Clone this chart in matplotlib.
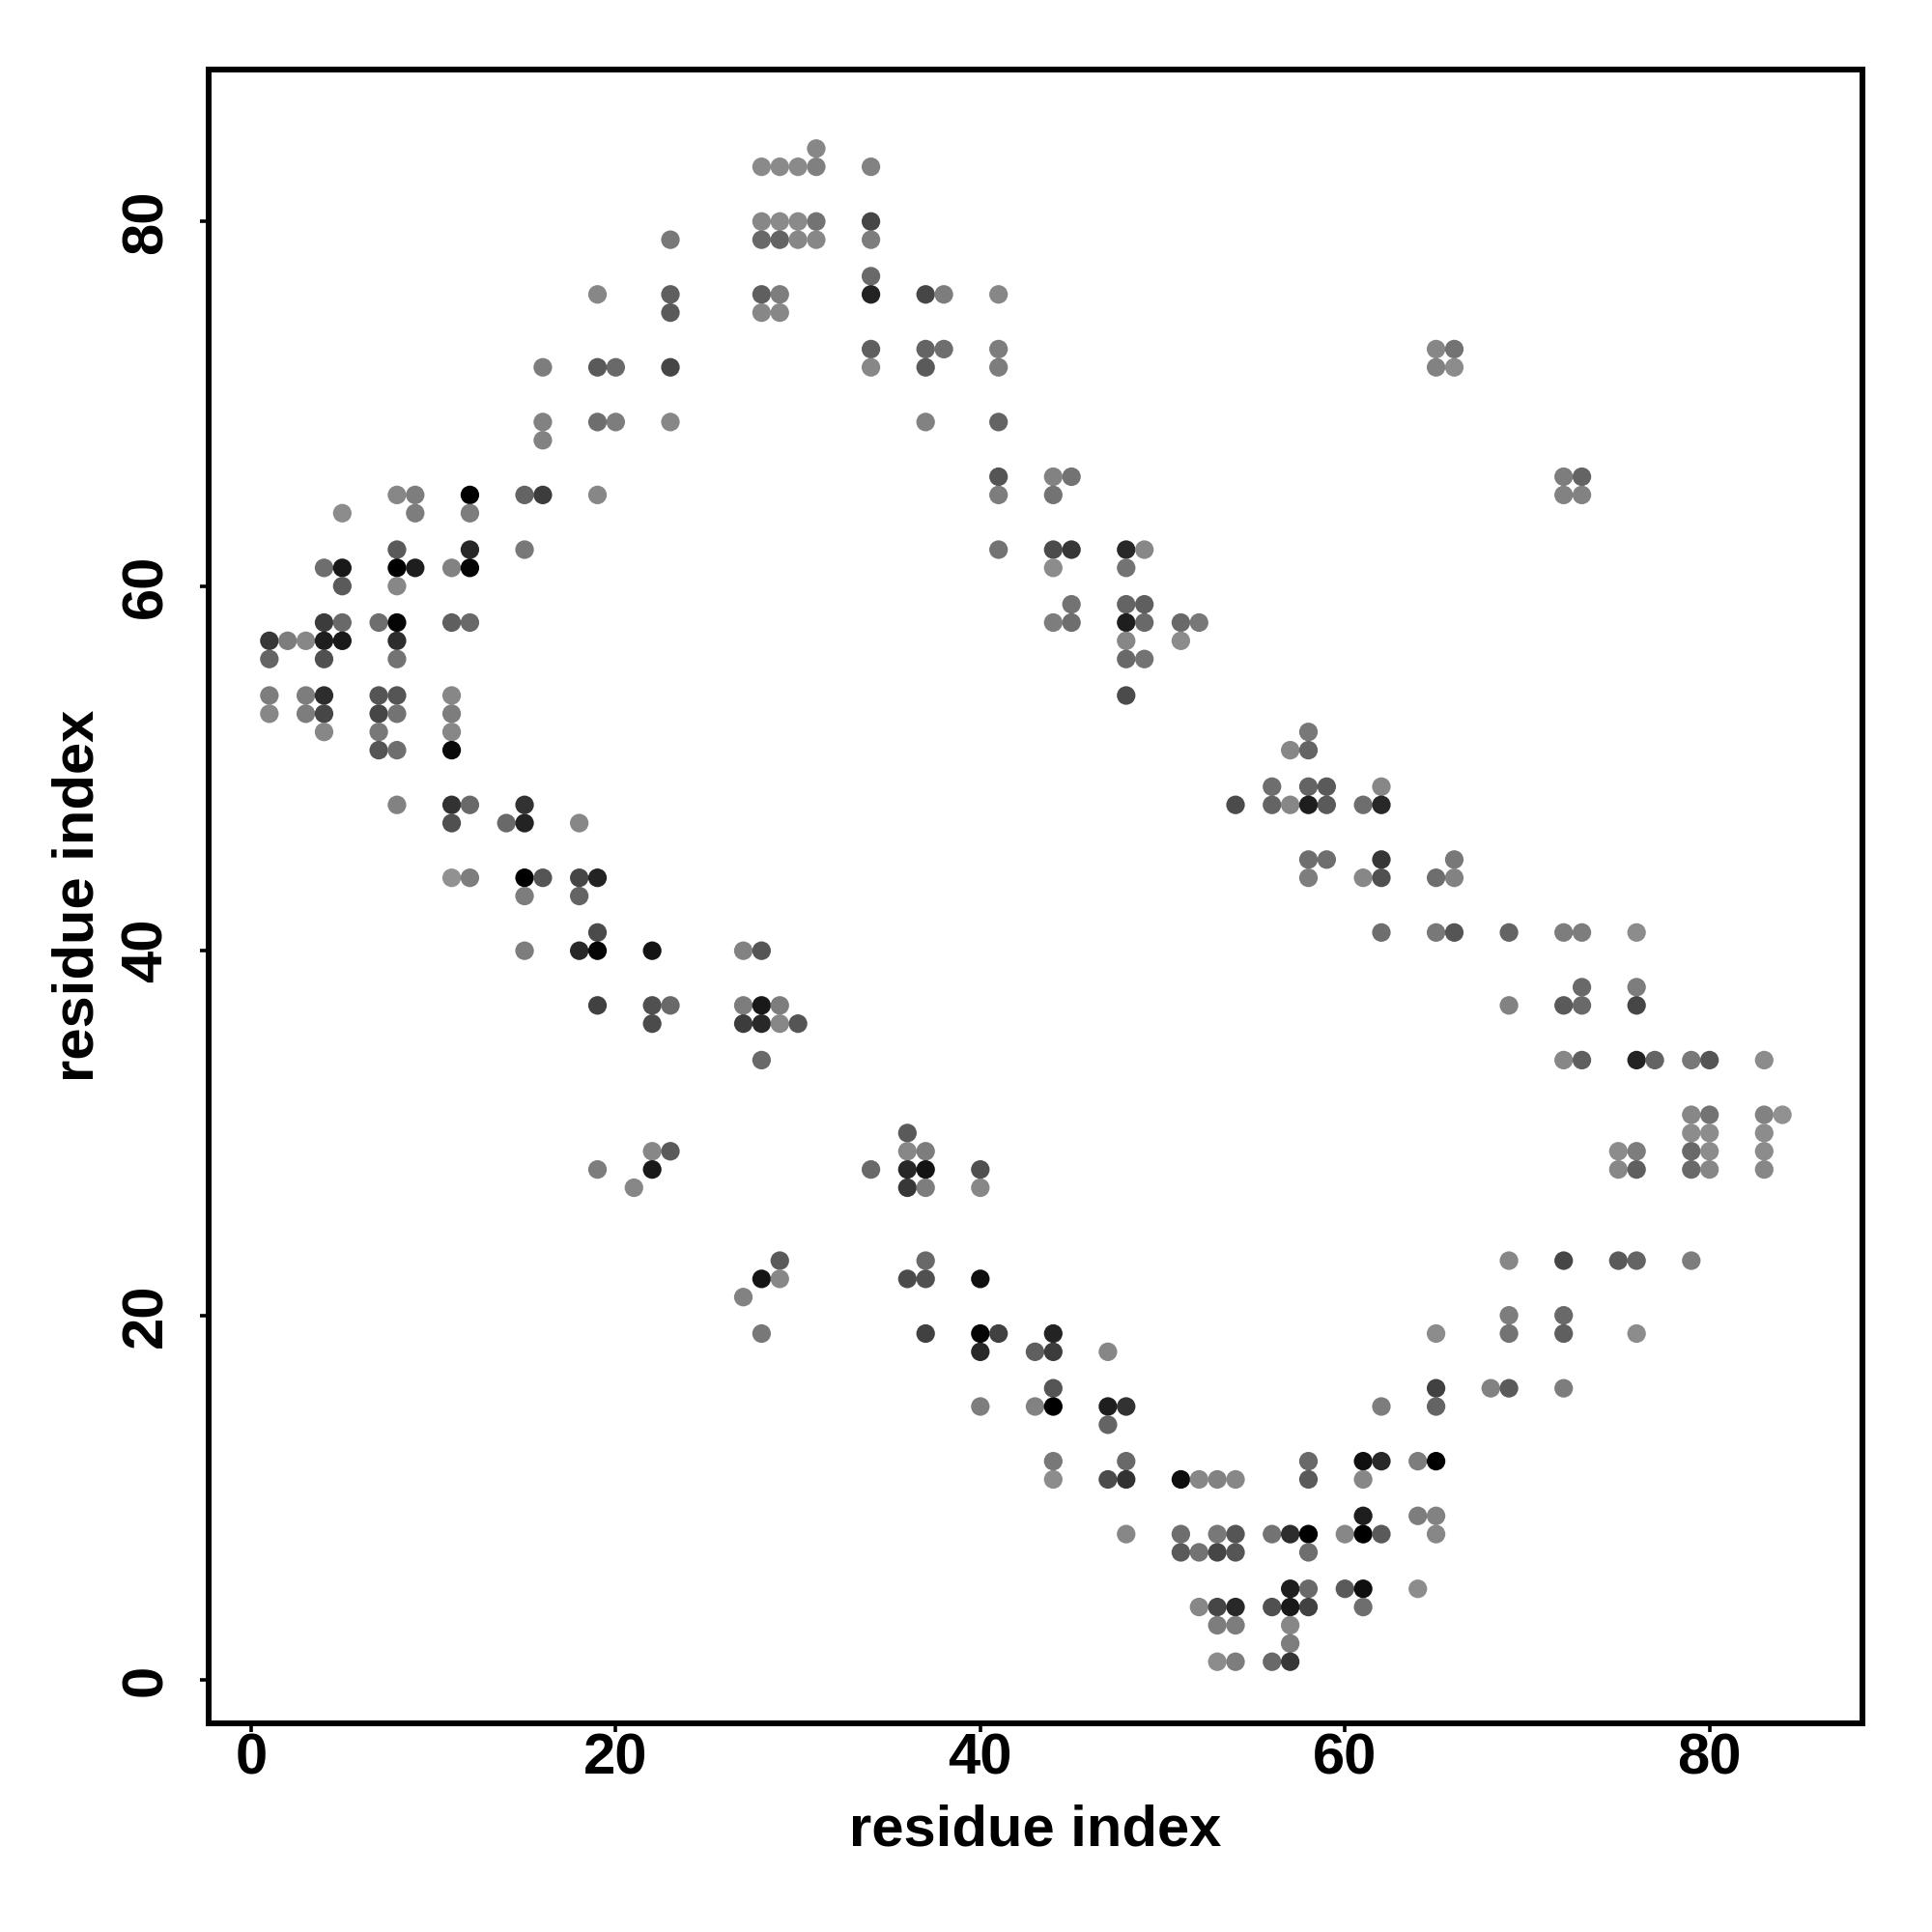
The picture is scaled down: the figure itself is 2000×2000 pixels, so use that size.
import numpy as np
import matplotlib
matplotlib.use('Agg')
import matplotlib.pyplot as plt

plt.rcParams['font.family'] = ['Liberation Sans', 'DejaVu Sans']
plt.rcParams['font.weight'] = 'bold'

# contacts by row: y residue, the x residues on that row, grey level of each dot
row_j = [84, 83, 80, 79, 77, 76, 75, 73, 72, 69, 68, 66, 65, 64, 62, 61, 60, 59, 58, 57,
         56, 54, 53, 52, 51, 49, 48, 47, 45, 44, 43, 41, 40, 38, 37, 36, 34, 31, 30, 29,
         28, 27, 23, 22, 21, 20, 19, 18, 16, 15, 14, 12, 11, 9, 8, 7, 5, 4, 3, 2, 1]

row_i = [
    [31],
    [28, 29, 30, 31, 34],
    [28, 29, 30, 31, 34],
    [23, 28, 29, 30, 31, 34],
    [34],
    [19, 23, 28, 29, 34, 37, 38, 41],
    [23, 28, 29],
    [34, 37, 38, 41, 65, 66],
    [16, 19, 20, 23, 34, 37, 41, 65, 66],
    [16, 19, 20, 23, 37, 41],
    [16],
    [41, 44, 45, 72, 73],
    [8, 9, 12, 15, 16, 19, 41, 44, 72, 73],
    [5, 9, 12],
    [8, 12, 15, 41, 44, 45, 48, 49],
    [4, 5, 8, 9, 11, 12, 44, 48],
    [5, 8],
    [45, 48, 49],
    [4, 5, 7, 8, 11, 12, 44, 45, 48, 49, 51, 52],
    [1, 2, 3, 4, 5, 8, 48, 51],
    [1, 4, 8, 48, 49],
    [1, 3, 4, 7, 8, 11, 48],
    [1, 3, 4, 7, 8, 11],
    [4, 7, 11, 58],
    [7, 8, 11, 57, 58],
    [56, 58, 59, 62],
    [8, 11, 12, 15, 54, 56, 57, 58, 59, 61, 62],
    [11, 14, 15, 18],
    [58, 59, 62, 66],
    [11, 12, 15, 16, 18, 19, 58, 61, 62, 65, 66],
    [15, 18],
    [19, 62, 65, 66, 69, 72, 73, 76],
    [15, 18, 19, 22, 27, 28],
    [73, 76],
    [19, 22, 23, 27, 28, 29, 69, 72, 73, 76],
    [22, 27, 28, 29, 30],
    [28, 72, 73, 76, 77, 79, 80, 83],
    [79, 80, 83, 84],
    [36, 79, 80, 83],
    [22, 23, 36, 37, 75, 76, 79, 80, 83],
    [19, 22, 34, 36, 37, 40, 75, 76, 79, 80, 83],
    [21, 36, 37, 40],
    [29, 37, 69, 72, 75, 76, 79],
    [28, 29, 36, 37, 40],
    [27],
    [69, 72],
    [28, 37, 40, 41, 44, 65, 69, 72, 76],
    [40, 43, 44, 47],
    [44, 65, 68, 69, 72],
    [40, 43, 44, 47, 48, 62, 65],
    [47],
    [44, 48, 58, 61, 62, 64, 65],
    [44, 47, 48, 51, 52, 53, 54, 58, 61],
    [61, 64, 65],
    [48, 51, 53, 54, 56, 57, 58, 60, 61, 62, 65],
    [51, 52, 53, 54, 58],
    [57, 58, 60, 61, 64],
    [52, 53, 54, 56, 57, 58, 61],
    [53, 54, 57],
    [57],
    [53, 54, 56, 57],
]

row_shade = [
    [135],
    [138, 138, 138, 128, 130],
    [135, 138, 138, 115, 70],
    [120, 105, 100, 135, 135, 125],
    [105],
    [135, 95, 95, 125, 35, 70, 125, 135],
    [90, 135, 135],
    [95, 100, 110, 125, 135, 115],
    [125, 90, 105, 70, 135, 90, 125, 130, 140],
    [130, 110, 125, 135, 130, 100],
    [130],
    [85, 130, 115, 125, 100],
    [135, 125, 0, 100, 60, 135, 125, 115, 130, 130],
    [140, 125, 125],
    [90, 40, 120, 115, 75, 55, 40, 135],
    [110, 25, 0, 30, 130, 5, 140, 115],
    [90, 135],
    [115, 100, 95],
    [60, 105, 110, 5, 95, 105, 125, 110, 30, 105, 105, 120],
    [55, 125, 135, 30, 25, 45, 135, 140],
    [100, 80, 115, 105, 115],
    [125, 125, 45, 85, 85, 135, 75],
    [135, 125, 70, 70, 115, 125],
    [135, 120, 135, 120],
    [85, 110, 10, 135, 100],
    [110, 100, 90, 135],
    [130, 50, 105, 50, 75, 100, 135, 30, 90, 110, 40],
    [80, 105, 35, 135],
    [110, 110, 55, 120],
    [145, 125, 0, 85, 70, 35, 125, 135, 80, 110, 130],
    [125, 100],
    [75, 110, 120, 85, 100, 125, 125, 140],
    [125, 40, 5, 20, 130, 85],
    [105, 125],
    [65, 80, 105, 125, 25, 125, 130, 90, 105, 70],
    [75, 60, 40, 135, 85],
    [105, 135, 95, 35, 100, 120, 85, 140],
    [135, 115, 130, 145],
    [90, 140, 140, 140],
    [135, 90, 135, 125, 140, 125, 105, 140, 140],
    [125, 25, 105, 40, 20, 80, 135, 95, 105, 135, 135],
    [135, 55, 125, 135],
    [90, 105, 135, 70, 90, 100, 125],
    [20, 135, 75, 80, 15],
    [130],
    [125, 105],
    [120, 65, 5, 65, 35, 140, 115, 95, 140],
    [40, 95, 60, 135],
    [85, 65, 130, 90, 125],
    [125, 130, 0, 30, 50, 125, 100],
    [100],
    [120, 105, 105, 15, 40, 125, 0],
    [140, 75, 50, 15, 135, 130, 135, 90, 135],
    [30, 125, 130],
    [135, 110, 120, 85, 115, 45, 0, 135, 0, 90, 135],
    [90, 115, 70, 85, 110],
    [30, 105, 90, 15, 140],
    [135, 70, 40, 80, 25, 65, 110],
    [125, 125, 135],
    [125],
    [140, 125, 105, 55],
]

x_ticks = [0, 20, 40, 60, 80]
y_ticks = [0, 20, 40, 60, 80]

xs = []
ys = []
greys = []
for j, ii, gg in zip(row_j, row_i, row_shade):
    assert len(ii) == len(gg), j
    for i, g in zip(ii, gg):
        xs.append(i)
        ys.append(j)
        greys.append(g)

fig = plt.figure(figsize=(20, 20), dpi=100)
ax = fig.add_axes([216/2000, 1 - 1784/2000, (1928-216)/2000, (1784-71.5)/2000])

ax.scatter(xs, ys, c=greys, cmap='gray', vmin=0, vmax=255, s=192, linewidths=0, zorder=3)

ax.set_xlim(-2.33, 88.39)
ax.set_ylim(-2.38, 88.36)

for side in ax.spines.values():
    side.set_linewidth(4.3)

ax.set_xticks(x_ticks)
ax.set_yticks(y_ticks)
ax.tick_params(axis='both', length=6.5, width=2.6, labelsize=43)
ax.tick_params(axis='x', pad=0.5)
ax.tick_params(axis='y', pad=20)
for lab in ax.get_yticklabels():
    lab.set_rotation(90)
    lab.set_va('center')

ax.set_xlabel('residue index', fontsize=43, fontweight='bold', labelpad=13.5)
ax.set_ylabel('residue index', fontsize=43, fontweight='bold', labelpad=11)

fig.savefig('out.png', dpi=100, facecolor='white')
